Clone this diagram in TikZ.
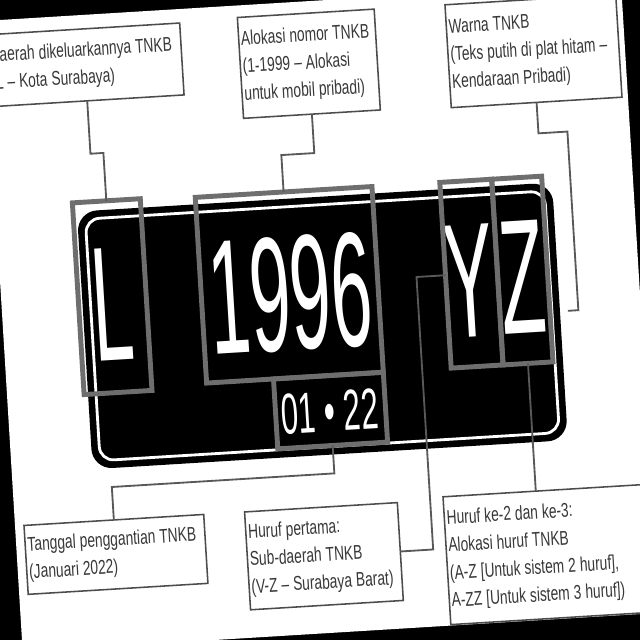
\documentclass[tikz,border=0pt]{standalone}
\usepackage{fontspec}
\setmainfont{Liberation Sans}[FakeStretch=0.69]
\newfontfamily\platefont{Liberation Sans}[FakeStretch=0.45]
\newfontfamily\datefont{Liberation Sans}[FakeStretch=0.54]
\usetikzlibrary{calc}

\begin{document}
\begin{tikzpicture}[x=0.025cm, y=-0.025cm,
  every node/.style={font=\fontsize{14.2}{19.6}\selectfont},
  infobox/.style={rectangle, draw=black!70, line width=1.1pt, fill=white, text=black!78, anchor=north west, align=left, inner xsep=0.06cm, inner ysep=0pt, outer sep=0pt, execute at begin node={\spaceskip=0.2em plus 0.05em\relax}},
  hilite/.style={rectangle, draw=black!57, line width=3.5pt, inner sep=0pt, outer sep=0pt},
  plateglyph/.style={text=white, inner sep=0pt, font=\platefont\fontsize{116}{116}\selectfont},
  conn/.style={draw=black!65, line width=1.3pt}]

\useasboundingbox (0,0) rectangle (640,640);
\clip (0,0) rectangle (640,640);
\fill[black] (0,0) rectangle (640,640);

\begin{scope}[rotate around={3.5:(320,320)}, transform shape]
\fill[white] (3,1) rectangle (641,633);

% the plate
\node[rectangle, fill=black, rounded corners=0.5cm, minimum width=11.9cm, minimum height=6.45cm, inner sep=0pt, outer sep=0pt] (plate) at (322,326) {};
\node[rectangle, draw=white, line width=2pt, rounded corners=0.35cm, minimum width=11.5cm, minimum height=6.05cm] (rim) at (plate.center) {};

\node[plateglyph] (cL) at (114,292) {L};
\node[plateglyph] (c1996) at (292,292) {1996};
\node[plateglyph] (cY) at (472,290) {Y};
\node[plateglyph] (cZ) at (525,290) {Z};
\node[plateglyph, font=\datefont\fontsize{41}{41}\selectfont] (cdate) at (324,412) {01 • 22};

% grey marks
\node[hilite, minimum width=1.7cm, minimum height=4.8cm] (bL) at (114,284) {};
\node[hilite, minimum width=4.425cm, minimum height=4.65cm] (b1996) at (291.5,283) {};
\node[hilite, minimum width=2.75cm, minimum height=1.75cm] (bdate) at (325,411) {};
\node[hilite, minimum width=1.3cm, minimum height=4.65cm] (bY) at (474,283) {};
\node[hilite, minimum width=1.25cm, minimum height=4.65cm] (bZ) at (525,283) {};

% labels
\node[infobox, text width=4.73cm, minimum height=1.8cm] (tkab) at (4,15) {Daerah dikeluarkannya TNKB\\(L – Kota Surabaya)};
\node[infobox, text width=3.305cm, minimum height=2.525cm] (talo) at (256,13) {Alokasi nomor TNKB\\(1-1999 – Alokasi\\untuk mobil pribadi)};
\node[infobox, text width=4.155cm, minimum height=2.575cm] (twarna) at (464,13) {Warna TNKB\\(Teks putih di plat hitam –\\Kendaraan Pribadi)};
\node[infobox, text width=4.38cm, minimum height=1.725cm] (btgl) at (12,507) {Tanggal penggantian TNKB\\(Januari 2022)};
\node[infobox, text width=3.705cm, minimum height=2.45cm] (bhuruf1) at (233,507) {Huruf pertama:\\Sub-daerah TNKB\\(V-Z – Surabaya Barat)};
\node[infobox, text width=5.33cm, minimum height=3.2cm] (bhuruf2) at (432,504) {Huruf ke-2 dan ke-3:\\Alokasi huruf TNKB\\(A-Z [Untuk sistem 2 huruf],\\A-ZZ [Untuk sistem 3 huruf])};

% connectors
\draw[conn] (tkab.south) -- ++(0,53) -| (bL.north);
\draw[conn] (talo.south) -- ++(0,39) -| (b1996.north);
\draw[conn, shorten >=0.2cm] (twarna.south) -- ++(0,31) -- ++(29,0) |- (plate.east);
\draw[conn] (bdate.south) -- ++(0,28) -| (btgl.north);
\draw[conn] (bY.west) -- ++(-29,0) |- (bhuruf1.east);
\draw[conn] (bZ.south) -- (bZ.south |- bhuruf2.north);
\end{scope}
\end{tikzpicture}
\end{document}
